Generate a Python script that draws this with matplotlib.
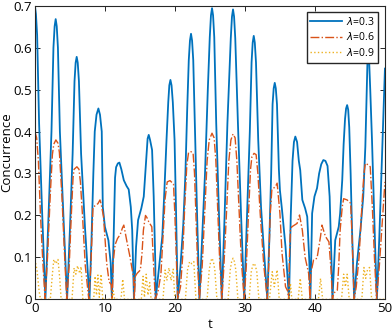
import numpy as np
import matplotlib
matplotlib.use("Agg")
import matplotlib.pyplot as plt

plt.rcParams['font.family'] = ['Open Sans', 'DejaVu Sans']
plt.rcParams['mathtext.fontset'] = 'dejavusans'

# concurrence for lambda = 0.3
t_03 = [0.0, 0.15, 0.32, 0.6, 1.05, 1.5,
        1.95, 2.37, 2.65, 2.82, 2.97, 3.12, 3.29, 3.57, 4.07, 4.6,
        5.02, 5.39, 5.66, 5.82, 5.97, 6.12, 6.29, 6.6, 7.15, 7.8,
        8.1, 8.35, 8.55, 8.8, 9.07, 9.3, 9.55, 9.7, 10.0, 10.5, 10.83, 11.0,
        11.25, 11.45, 11.6, 11.85, 12.07, 12.35, 12.7, 13.1, 13.4, 13.7, 13.9, 14.15,
        14.45, 14.74, 15.2, 15.55, 15.9, 16.1, 16.26, 16.45, 16.74, 16.97, 17.2, 17.25,
        17.7, 18.2, 18.5, 18.8, 19.05, 19.2, 19.36, 19.52, 19.7, 19.95, 20.15, 20.4,
        20.8, 21.2, 21.5, 21.75, 21.98, 22.15, 22.3, 22.45, 22.62, 22.9, 23.2, 23.5,
        23.9, 24.3, 24.7, 24.98, 25.15, 25.3, 25.45, 25.62, 25.9, 26.3, 26.7,
        27.1, 27.5, 27.98, 28.15, 28.3, 28.45, 28.62, 29.0, 29.45, 29.9,
        30.3, 30.7, 30.95, 31.11, 31.26, 31.41, 31.58, 31.9, 32.3, 32.7, 33.2,
        33.5, 33.75, 33.95, 34.11, 34.26, 34.41, 34.58, 34.85, 35.0, 35.3, 35.8, 36.3,
        36.55, 36.8, 37.0, 37.2, 37.45, 37.7, 37.9, 38.2, 38.6, 38.9, 39.2, 39.35,
        39.6, 39.93, 40.3, 40.6, 40.9, 41.2, 41.5, 41.8, 42.1, 42.35, 42.5,
        42.9, 43.4, 43.6, 43.9, 44.1, 44.3, 44.45, 44.6, 44.75, 44.9, 45.1, 45.3, 45.6,
        46.0, 46.5, 46.9, 47.2, 47.4, 47.5, 47.62, 47.75, 47.9, 48.15, 48.6, 48.85,
        49.2, 49.6, 50.0]
c_03 = [0.70, 0.68, 0.63, 0.42, 0.20, 0.0,
        0.20, 0.40, 0.60, 0.651, 0.668, 0.651, 0.60, 0.40, 0.20, 0.0,
        0.173, 0.347, 0.52, 0.564, 0.578, 0.564, 0.52, 0.347, 0.173, 0.0,
        0.15, 0.30, 0.40, 0.44, 0.455, 0.44, 0.40, 0.22, 0.173, 0.141, 0.086, 0.0,
        0.15, 0.29, 0.315, 0.324, 0.326, 0.31, 0.284, 0.27, 0.262, 0.22, 0.165, 0.0,
        0.125, 0.189, 0.217, 0.245, 0.332, 0.383, 0.392, 0.38, 0.356, 0.245, 0.086, 0.0,
        0.07, 0.15, 0.26, 0.38, 0.47, 0.51, 0.523, 0.51, 0.47, 0.38, 0.22, 0.0,
        0.08, 0.18, 0.30, 0.45, 0.57, 0.617, 0.633, 0.617, 0.57, 0.38, 0.18, 0.0,
        0.15, 0.30, 0.50, 0.625, 0.677, 0.694, 0.677, 0.625, 0.42, 0.20, 0.0,
        0.20, 0.42, 0.622, 0.674, 0.691, 0.674, 0.622, 0.42, 0.20, 0.0,
        0.20, 0.40, 0.565, 0.612, 0.628, 0.612, 0.565, 0.38, 0.22, 0.12, 0.0,
        0.15, 0.30, 0.465, 0.503, 0.516, 0.503, 0.465, 0.31, 0.26, 0.213, 0.125, 0.0,
        0.20, 0.33, 0.375, 0.388, 0.375, 0.33, 0.308, 0.237, 0.217, 0.197, 0.09, 0.0,
        0.205, 0.245, 0.265, 0.30, 0.322, 0.332, 0.33, 0.318, 0.245, 0.10, 0.0,
        0.141, 0.173, 0.205, 0.284, 0.37, 0.43, 0.455, 0.463, 0.452, 0.41, 0.30, 0.165, 0.0,
        0.086, 0.165, 0.245, 0.364, 0.50, 0.565, 0.582, 0.565, 0.50, 0.38, 0.125, 0.0,
        0.15, 0.35, 0.55]

# concurrence for lambda = 0.6
t_06 = [0.0, 0.25, 0.5, 0.8, 1.1, 1.45,
        1.8, 2.2, 2.5, 2.7, 3.0, 3.3, 3.5, 3.85, 4.2, 4.55,
        4.9, 5.2, 5.45, 5.6, 6.0, 6.3, 6.5, 6.8, 7.2, 7.7,
        8.0, 8.3, 8.5, 8.75, 9.0, 9.3, 9.5, 9.8, 10.0, 10.26, 10.6, 10.9, 11.05,
        11.2, 11.45, 11.8, 12.2, 12.5, 12.7, 12.95, 13.2, 13.6, 13.9, 14.1, 14.2,
        14.35, 14.6, 15.07, 15.3, 15.5, 15.8, 16.0, 16.26, 16.7, 16.9, 17.2,
        17.6, 18.0, 18.3, 18.6, 18.9, 19.3, 19.8, 20.0, 20.2, 20.4,
        20.8, 21.1, 21.4, 21.7, 21.95, 22.3, 22.6, 22.8, 23.0, 23.25, 23.5,
        23.9, 24.3, 24.6, 24.9, 25.3, 25.6, 25.85, 26.1, 26.4, 26.7,
        27.0, 27.35, 27.7, 28.0, 28.3, 28.6, 28.85, 29.15, 29.5, 29.9,
        30.2, 30.5, 30.8, 31.0, 31.3, 31.6, 31.85, 32.2, 32.7, 33.2,
        33.4, 33.6, 33.85, 34.1, 34.4, 34.6, 34.8, 35.0, 35.3, 35.8, 36.1, 36.25,
        36.35, 36.5, 36.7, 37.45, 37.8, 38.2, 38.6, 39.1, 39.3,
        39.4, 39.8, 40.3, 40.8, 41.0, 41.5, 42.0, 42.3, 42.5,
        42.7, 43.2, 43.4, 43.6, 43.9, 44.1, 44.6, 45.1, 45.3, 45.6,
        45.9, 46.3, 46.7, 47.0, 47.2, 47.7, 47.9, 48.2, 48.5, 48.8,
        49.2, 49.6, 50.0]
c_06 = [0.40, 0.385, 0.33, 0.20, 0.10, 0.0,
        0.10, 0.25, 0.345, 0.37, 0.38, 0.372, 0.35, 0.25, 0.12, 0.0,
        0.08, 0.20, 0.29, 0.31, 0.316, 0.31, 0.28, 0.20, 0.08, 0.0,
        0.08, 0.22, 0.222, 0.225, 0.228, 0.237, 0.225, 0.197, 0.15, 0.086, 0.042, 0.035, 0.0,
        0.09, 0.13, 0.145, 0.155, 0.17, 0.177, 0.155, 0.133, 0.10, 0.07, 0.054, 0.0,
        0.055, 0.062, 0.07, 0.11, 0.165, 0.20, 0.195, 0.185, 0.173, 0.10, 0.0,
        0.02, 0.06, 0.15, 0.24, 0.28, 0.283, 0.275, 0.20, 0.10, 0.0,
        0.03, 0.10, 0.22, 0.32, 0.35, 0.352, 0.348, 0.30, 0.20, 0.08, 0.0,
        0.08, 0.22, 0.33, 0.38, 0.396, 0.385, 0.33, 0.22, 0.09, 0.0,
        0.08, 0.20, 0.33, 0.38, 0.394, 0.385, 0.33, 0.22, 0.09, 0.0,
        0.08, 0.20, 0.31, 0.34, 0.348, 0.345, 0.30, 0.20, 0.08, 0.0,
        0.08, 0.20, 0.262, 0.265, 0.27, 0.277, 0.24, 0.205, 0.11, 0.03, 0.02, 0.0,
        0.10, 0.165, 0.173, 0.181, 0.201, 0.165, 0.10, 0.062, 0.0,
        0.06, 0.094, 0.098, 0.15, 0.177, 0.15, 0.137, 0.07, 0.0,
        0.015, 0.022, 0.08, 0.165, 0.22, 0.24, 0.237, 0.229, 0.15, 0.0,
        0.03, 0.10, 0.22, 0.30, 0.324, 0.32, 0.316, 0.22, 0.10, 0.0,
        0.08, 0.18, 0.28]

# concurrence for lambda = 0.9
t_09 = [0.0, 0.3, 0.6, 0.8,
        2.2, 2.5, 2.7, 3.0, 3.3, 3.55, 3.75,
        5.3, 5.6, 5.85, 6.1, 6.4, 6.6, 6.85,
        8.4, 8.6, 8.8, 9.0, 9.2, 9.45, 9.7,
        11.0, 11.2, 11.4, 12.3, 12.55, 12.8,
        15.2, 15.45, 15.65, 15.9, 16.15, 16.4, 16.6,
        18.3, 18.6, 18.85, 19.15, 19.45, 19.75, 20.0,
        21.5, 21.8, 22.1, 22.4, 22.7, 23.0,
        24.6, 24.9, 25.1, 25.3, 25.5, 25.7, 26.0,
        27.6, 27.9, 28.1, 28.3, 28.5, 28.7, 29.0,
        30.6, 30.9, 31.1, 31.3, 31.5, 31.7, 32.0,
        33.5, 33.9, 34.2, 34.6, 34.9,
        36.3, 36.5, 36.7, 37.6, 37.9, 38.2,
        40.5, 40.8, 41.1,
        43.8, 44.1, 44.35, 44.6, 44.9,
        46.7, 47.0, 47.25, 47.5, 47.8, 48.1,
        50.0]
c_09 = [0.095, 0.07, 0.02, 0.0,
        0.0, 0.06, 0.095, 0.085, 0.095, 0.05, 0.0,
        0.0, 0.075, 0.06, 0.08, 0.062, 0.078, 0.0,
        0.0, 0.055, 0.01, 0.058, 0.005, 0.06, 0.0,
        0.0, 0.02, 0.0, 0.0, 0.048, 0.0,
        0.0, 0.055, 0.005, 0.06, 0.01, 0.04, 0.0,
        0.0, 0.07, 0.045, 0.075, 0.045, 0.072, 0.0,
        0.0, 0.07, 0.09, 0.085, 0.09, 0.0,
        0.0, 0.07, 0.09, 0.098, 0.09, 0.07, 0.0,
        0.0, 0.07, 0.09, 0.098, 0.09, 0.07, 0.0,
        0.0, 0.065, 0.08, 0.086, 0.08, 0.065, 0.0,
        0.0, 0.066, 0.03, 0.07, 0.0,
        0.0, 0.038, 0.0, 0.0, 0.05, 0.0,
        0.0, 0.05, 0.0,
        0.0, 0.06, 0.03, 0.06, 0.0,
        0.0, 0.076, 0.05, 0.07, 0.076, 0.0,
        0.0]

x_ticks = [0, 10, 20, 30, 40, 50]
y_ticks = [0, 0.1, 0.2, 0.3, 0.4, 0.5, 0.6, 0.7]
y_tick_labels = ["0", "0.1", "0.2", "0.3", "0.4", "0.5", "0.6", "0.7"]

# %%
fig = plt.figure(figsize=(3.92, 3.33), dpi=100)
ax = fig.add_axes([0.089, 0.101, 0.893, 0.882])

ax.plot(t_03, c_03, color="#0072BD", linewidth=1.3, label=r"$\lambda$=0.3")
ax.plot(t_06, c_06, color="#D95319", linewidth=1.0, linestyle="-.", label=r"$\lambda$=0.6")
ax.plot(t_09, c_09, color="#EDB120", linewidth=1.0, linestyle=":", label=r"$\lambda$=0.9")

ax.set_xlim(0, 50)
ax.set_ylim(0, 0.7)
ax.set_xticks(x_ticks)
ax.set_yticks(y_ticks)
ax.set_yticklabels(y_tick_labels)
ax.tick_params(direction="in", top=True, right=True, length=3.5, width=0.7,
               labelsize=9.5, colors="#262626", labelcolor="black", pad=2)
for s in ax.spines.values():
    s.set_color("#262626")
    s.set_linewidth(0.8)

ax.set_xlabel("t", fontsize=9.5, labelpad=2)
ax.set_ylabel("Concurrence", fontsize=9.5, labelpad=0)

ax.legend(loc="upper right", bbox_to_anchor=(0.98, 0.978), fontsize=7.5,
          frameon=True, fancybox=False, edgecolor="#262626", framealpha=1,
          handlelength=3.1, borderaxespad=0, borderpad=0.35, labelspacing=0.35,
          handletextpad=0.3)

fig.savefig("out.png", dpi=100)
